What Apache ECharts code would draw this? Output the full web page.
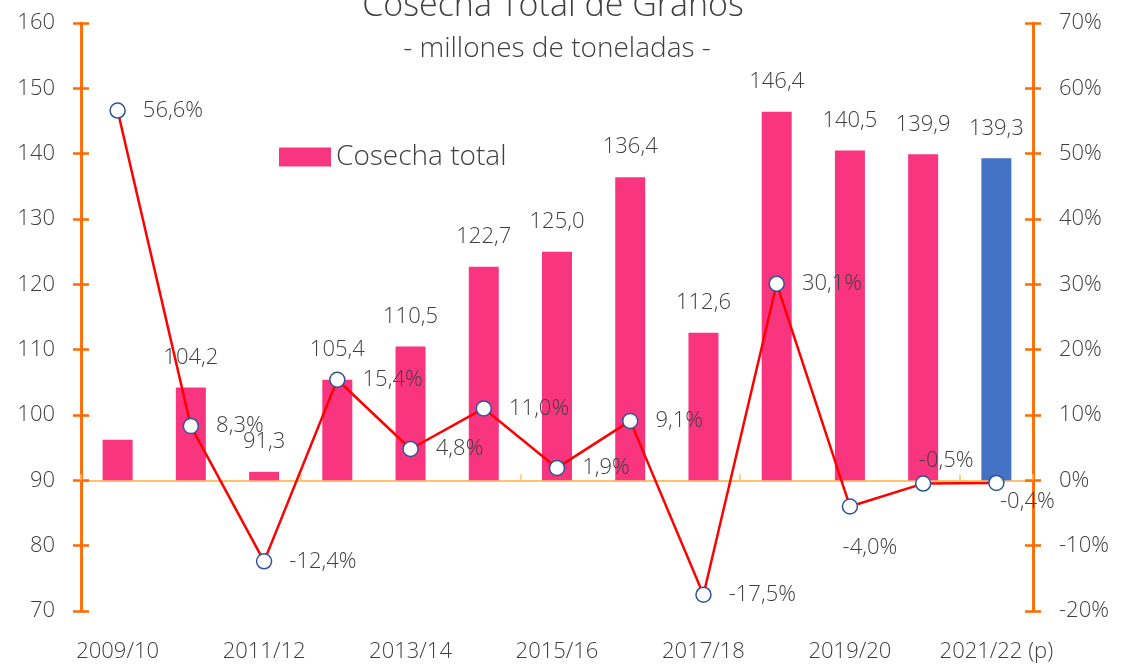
<!DOCTYPE html>
<html>
<head>
<meta charset="utf-8">
<script src="https://cdn.jsdelivr.net/npm/echarts@6/dist/echarts.min.js"></script>
<style>html,body{margin:0;padding:0;background:#fff}#c{width:1127px;height:671px}</style>
</head>
<body>
<div id="c"></div>
<script>
const categories = ['2009/10','2010/11','2011/12','2012/13','2013/14','2014/15','2015/16','2016/17','2017/18','2018/19','2019/20','2020/21','2021/22 (p)'];
const cosecha = [96.2,104.2,91.3,105.4,110.5,122.7,125.0,136.4,112.6,146.4,140.5,139.9,139.3];
const variacion = [56.6,8.3,-12.4,15.4,4.8,11.0,1.9,9.1,-17.5,30.1,-4.0,-0.5,-0.4];
const leftTicks = {min:70,max:160,interval:10};
const rightTicks = {min:-20,max:70,interval:10};
const BASE = 90;

const FONT = '"Open Sans", "Noto Sans", sans-serif';
const TXT = '#404040';
const AXC = '#FF6A00';
const PINK = '#FA3580';
const BLUE = '#4472C4';
const fmt = v => v.toFixed(1).replace('.', ',');

const chart = echarts.init(document.getElementById('c'));
const yBase = (t, pos, showLabel, inside) => ({
  type:'value', position:pos, min:t.min, max:t.max, interval:t.interval,
  axisLine:{show:true, lineStyle:{color:AXC, width:2.5}},
  axisTick:{show:true, inside:inside, length:8, lineStyle:{color:AXC, width:2.5}},
  axisLabel:{show:showLabel, color:TXT, fontSize:22, fontFamily:FONT, fontWeight:300, margin:26,
    formatter: pos==='right' ? (v=>v+'%') : (v=>v)},
  splitLine:{show:false}
});

const barLabels = cosecha.map((v,i)=>({
  value: v - BASE,
  itemStyle:{color: i===cosecha.length-1 ? BLUE : PINK},
  label:{show: i!==0}
}));

const lineLabelPos = variacion.map((v,i)=>{
  if (i===10) return {position:'bottom', distance:22, offset:[20,0]};
  if (i===11) return {position:'top', distance:4, offset:[23,0]};
  if (i===12) return {position:'bottom', distance:0, offset:[31,0]};
  return {position:'right', distance:17};
});

chart.setOption({
  animation:false,
  backgroundColor:'#fff',
  title:[
    {text:'Cosecha Total de Granos', left:548, textAlign:'center', top:-16,
      textStyle:{fontSize:34, fontWeight:300, color:TXT, fontFamily:FONT}},
    {text:'- millones de toneladas -', left:552, textAlign:'center', top:30,
      textStyle:{fontSize:28, fontWeight:300, color:TXT, fontFamily:FONT}}
  ],
  legend:{data:['Cosecha total'], left:274, top:138, itemWidth:52, itemHeight:19, itemGap:6,
    icon:'rect',
    textStyle:{fontSize:28, color:TXT, fontFamily:FONT, fontWeight:300}},
  grid:{left:81, right:94, top:23, bottom:60, containLabel:false},
  xAxis:[
    {type:'category', data:categories, boundaryGap:true,
      axisLine:{show:true, onZero:true, onZeroAxisIndex:1, lineStyle:{color:'#FFC266', width:2}},
      axisTick:{show:true, inside:true, interval:2, length:6, lineStyle:{color:'#FFC266', width:1.5}},
      axisLabel:{show:false}},
    {type:'category', data:categories, position:'bottom', boundaryGap:true,
      axisLine:{show:false, onZero:false}, axisTick:{show:false},
      axisLabel:{show:true, interval:1, color:TXT, fontSize:22, fontFamily:FONT, fontWeight:300, margin:30}}
  ],
  yAxis:[
    yBase(leftTicks,'left',true,false),
    yBase(rightTicks,'right',true,false),
    yBase(leftTicks,'left',false,true),
    yBase(rightTicks,'right',false,true)
  ],
  series:[
    {name:'base', type:'bar', stack:'c', xAxisIndex:0, yAxisIndex:0, barWidth:30, silent:true,
      data:cosecha.map(()=>BASE), itemStyle:{color:'rgba(0,0,0,0)'}},
    {name:'Cosecha total', type:'bar', stack:'c', xAxisIndex:0, yAxisIndex:0, barWidth:30,
      itemStyle:{color:PINK},
      data:barLabels,
      label:{show:true, position:'top', distance:19, color:TXT, fontSize:22, fontFamily:FONT, fontWeight:300,
        formatter:p=>fmt(cosecha[p.dataIndex])}},
    {name:'Variación', type:'line', xAxisIndex:0, yAxisIndex:1, z:5,
      data:variacion.map((v,i)=>({value:v, label:lineLabelPos[i]})),
      lineStyle:{color:'#FF0000', width:2.5},
      symbol:'circle', symbolSize:15,
      itemStyle:{color:'#fff', borderColor:'#2F5597', borderWidth:1.5},
      label:{show:true, color:TXT, fontSize:22, fontFamily:FONT, fontWeight:300,
        formatter:p=>fmt(variacion[p.dataIndex])+'%'}}
  ]
});
</script>
</body>
</html>
